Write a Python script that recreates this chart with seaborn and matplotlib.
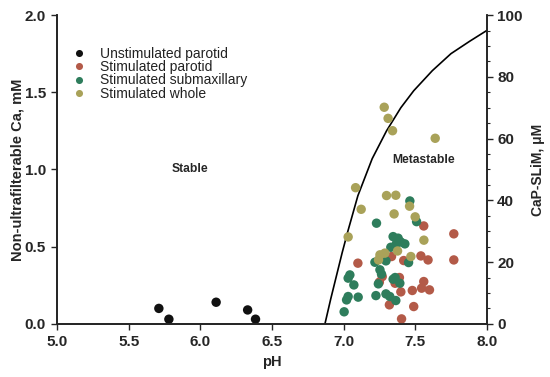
import numpy as np
import pandas as pd
import matplotlib
matplotlib.use("Agg")
import matplotlib.pyplot as plt
from matplotlib.ticker import MultipleLocator, FormatStrFormatter
import seaborn as sns

# values (pH, non-ultrafilterable Ca in mM)
unstim_parotid_ph = [5.71, 5.78, 6.11, 6.33, 6.385]
unstim_parotid_ca = [0.10, 0.03, 0.14, 0.09, 0.03]

stim_parotid_ph = [7.56, 7.77, 7.77, 7.10, 7.335, 7.42, 7.54, 7.59, 7.27, 7.36,
                   7.56, 7.545, 7.60, 7.48, 7.40, 7.32, 7.49, 7.405, 7.25, 7.39]
stim_parotid_ca = [0.634, 0.583, 0.414, 0.393, 0.436, 0.41, 0.44, 0.414, 0.306, 0.263,
                   0.274, 0.231, 0.22, 0.216, 0.207, 0.123, 0.112, 0.032, 0.27, 0.30]

stim_submax_ph = [7.463, 7.51, 7.23, 7.346, 7.381, 7.428, 7.33, 7.37, 7.40, 7.219,
                  7.296, 7.454, 7.254, 7.265, 7.044, 7.032, 7.072, 7.243, 7.346, 7.393,
                  7.102, 7.032, 7.021, 7.226, 7.296, 7.323, 7.365, 7.004, 7.36]
stim_submax_ca = [0.796, 0.662, 0.652, 0.565, 0.555, 0.518, 0.496, 0.522, 0.53, 0.399,
                  0.408, 0.397, 0.35, 0.322, 0.317, 0.296, 0.252, 0.259, 0.289, 0.263,
                  0.173, 0.177, 0.155, 0.183, 0.194, 0.177, 0.151, 0.078, 0.30]

stim_whole_ph = [7.284, 7.311, 7.342, 7.64, 7.084, 7.123, 7.032, 7.30, 7.365, 7.353,
                 7.461, 7.50, 7.561, 7.377, 7.254, 7.288, 7.244, 7.47]
stim_whole_ca = [1.403, 1.331, 1.251, 1.202, 0.882, 0.742, 0.563, 0.831, 0.833, 0.712,
                 0.762, 0.693, 0.542, 0.472, 0.447, 0.458, 0.414, 0.436]

# stability boundary curve
curve_ph = [6.87, 6.91, 6.95, 6.99, 7.03, 7.10, 7.20, 7.30, 7.40, 7.49, 7.62, 7.75, 7.88, 8.0]
curve_ca = [0.0, 0.16, 0.31, 0.46, 0.60, 0.83, 1.07, 1.25, 1.40, 1.51, 1.64, 1.75, 1.83, 1.90]

GROUPS = ["Unstimulated parotid", "Stimulated parotid", "Stimulated submaxillary", "Stimulated whole"]
COLORS = ["#111111", "#b35a48", "#2e7d5c", "#a9a259"]

frames = []
for name, ph, ca in zip(GROUPS,
                        [unstim_parotid_ph, stim_parotid_ph, stim_submax_ph, stim_whole_ph],
                        [unstim_parotid_ca, stim_parotid_ca, stim_submax_ca, stim_whole_ca]):
	frames.append(pd.DataFrame({"pH": ph, "Ca": ca, "group": name}))
df = pd.concat(frames, ignore_index=True)
curve_df = pd.DataFrame({"pH": curve_ph, "Ca": curve_ca})

sns.set_theme(style="ticks")
plt.rcParams["font.family"] = ["Liberation Sans", "DejaVu Sans"]

fig = plt.figure(figsize=(5.5, 3.77), dpi=100)
ax = fig.add_axes([0.104, 0.141, 0.781, 0.819])

sns.lineplot(data=curve_df, x="pH", y="Ca", sort=False, estimator=None,
             color="black", linewidth=1.2, ax=ax)
sns.scatterplot(data=df, x="pH", y="Ca", hue="group", hue_order=GROUPS,
                palette=COLORS, s=46, linewidth=0, ax=ax, zorder=3)

ax.set_xlim(5.0, 8.0)
ax.set_ylim(0.0, 2.0)
ax.xaxis.set_major_locator(MultipleLocator(0.5))
ax.yaxis.set_major_locator(MultipleLocator(0.5))
ax.xaxis.set_major_formatter(FormatStrFormatter("%.1f"))
ax.yaxis.set_major_formatter(FormatStrFormatter("%.1f"))
ax.tick_params(labelsize=11, width=1, length=4, direction="out", pad=4)
for lab in ax.get_xticklabels() + ax.get_yticklabels():
	lab.set_fontweight("bold")
ax.set_xlabel("pH", fontsize=10.5, fontweight="bold", labelpad=4)
ax.set_ylabel("Non-ultrafilterable Ca, mM", fontsize=10.5, fontweight="bold", labelpad=0)
ax.spines["top"].set_visible(False)
for s in ["left", "bottom", "right"]:
	ax.spines[s].set_linewidth(1.1)
	ax.spines[s].set_color("black")

ax2 = ax.twinx()
ax2.set_ylim(0, 100)
ax2.yaxis.set_major_locator(MultipleLocator(20))
ax2.yaxis.set_minor_locator(MultipleLocator(5))
ax2.tick_params(which="major", labelsize=11, width=1, length=4, direction="out")
ax2.tick_params(which="minor", width=0.8, length=2.5, direction="out")
for lab in ax2.get_yticklabels():
	lab.set_fontweight("bold")
ax2.set_ylabel("CaP-SLiM, \u03bcM", fontsize=10, fontweight="bold", labelpad=6)
ax2.spines["top"].set_visible(False)
ax2.spines["right"].set_linewidth(1.1)

ax.text(5.93, 1.0, "Stable", fontsize=8.7, fontweight="bold", ha="center", va="center")
ax.text(7.56, 1.06, "Metastable", fontsize=8.7, fontweight="bold", ha="center", va="center")

leg = ax.legend(loc="upper left", bbox_to_anchor=(0.005, 0.915), frameon=False,
                fontsize=10, handletextpad=0.5, labelspacing=-0.05, borderaxespad=0,
                markerscale=0.75)
for t in leg.get_texts():
	t.set_color("#222222")

fig.savefig("out.png", dpi=100)
